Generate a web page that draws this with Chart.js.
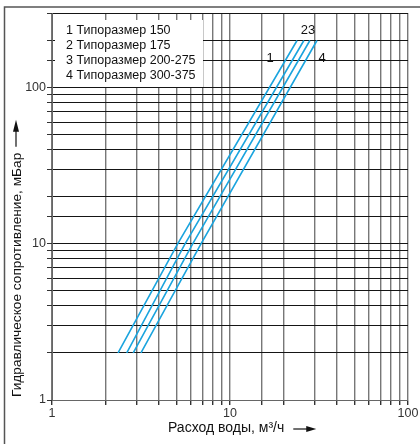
<!DOCTYPE html>
<html><head><meta charset="utf-8">
<script src="https://cdn.jsdelivr.net/npm/chart.js@4.4.1/dist/chart.umd.min.js"></script>
<style>html,body{margin:0;padding:0;background:#fff}#wrap{width:420px;height:444px;position:relative}</style>
</head><body><div id="wrap"><canvas id="c"></canvas></div>
<script>
const seriesNames = ['1 Типоразмер 150', '2 Типоразмер 175', '3 Типоразмер 200-275', '4 Типоразмер 300-375'];
const pressure = [2, 10, 200];
const flow1 = [2.35, 5.08, 23.8];
const flow2 = [2.63, 5.59, 26.0];
const flow3 = [2.86, 6.17, 28.1];
const flow4 = [3.16, 6.87, 30.8];
const curveLabels = ['1', '23', '4'];
const curveLabelX = [16.8, 27.4, 32.9];
const curveLabelY = [153, 232, 153];
const xTickLabels = [1, 10, 100];
const yTickLabels = [1, 10, 100];
const xTitle = 'Расход воды, м³/ч';
const yTitle = 'Гидравлическое сопротивление, мБар';

const BLUE = '#1aa4de';
const FONT = '"Liberation Sans", Arial, sans-serif';

function pts(xs) { return xs.map((x, i) => ({x: x, y: pressure[i]})); }
const flows = [flow1, flow2, flow3, flow4];

function isLabel(v, arr) { return arr.some(a => Math.abs(a - v) < 1e-6); }

const decor = {
  id: 'decor',
  beforeDatasetsDraw(chart) {
    const ctx = chart.ctx;
    ctx.save();
    ctx.fillStyle = '#fff';
    ctx.fillRect(55, 20, 148, 67);
    ctx.fillStyle = '#111';
    ctx.font = '12.5px ' + FONT;
    ctx.textBaseline = 'middle';
    ctx.textAlign = 'left';
    seriesNames.forEach((n, i) => ctx.fillText(n, 66, 31 + i * 14.7));
    ctx.restore();
  },
  afterDraw(chart) {
    const ctx = chart.ctx;
    const xs = chart.scales.x, ys = chart.scales.y;
    ctx.save();
    // curve labels
    ctx.fillStyle = '#111';
    ctx.font = '13px ' + FONT;
    ctx.textAlign = 'center';
    ctx.textBaseline = 'middle';
    curveLabels.forEach((t, i) => {
      ctx.fillText(t, xs.getPixelForValue(curveLabelX[i]), ys.getPixelForValue(curveLabelY[i]));
    });
    // x title
    ctx.font = '14px ' + FONT;
    ctx.textAlign = 'left';
    const w = ctx.measureText(xTitle).width;
    const tx = 168, ty = 428;
    ctx.fillText(xTitle, tx, ty);
    const ax0 = tx + w + 9, ax1 = ax0 + 23;
    ctx.strokeStyle = '#111'; ctx.lineWidth = 1.2;
    ctx.beginPath(); ctx.moveTo(ax0, ty + 1); ctx.lineTo(ax1 - 8, ty + 1); ctx.stroke();
    ctx.beginPath(); ctx.moveTo(ax1, ty + 1); ctx.lineTo(ax1 - 10, ty - 2); ctx.lineTo(ax1 - 10, ty + 4); ctx.closePath(); ctx.fill();
    // y title
    ctx.save();
    ctx.translate(17, 397);
    ctx.rotate(-Math.PI / 2);
    ctx.font = '13.7px ' + FONT;
    ctx.textAlign = 'left';
    ctx.fillText(yTitle, 0, 0);
    const wy = ctx.measureText(yTitle).width;
    const b0 = wy + 6, b1 = b0 + 27;
    ctx.beginPath(); ctx.moveTo(b0, -1); ctx.lineTo(b1 - 8, -1); ctx.stroke();
    ctx.beginPath(); ctx.moveTo(b1, -1); ctx.lineTo(b1 - 12, -4); ctx.lineTo(b1 - 12, 2); ctx.closePath(); ctx.fill();
    ctx.restore();
    // outer frame
    ctx.strokeStyle = '#555'; ctx.lineWidth = 1.5;
    ctx.beginPath(); ctx.moveTo(4.5, 446); ctx.lineTo(4.5, 7); ctx.lineTo(421, 7); ctx.stroke();
    ctx.restore();
  }
};

new Chart(document.getElementById('c'), {
  type: 'line',
  data: {
    datasets: flows.map((f, i) => ({
      label: seriesNames[i],
      data: pts(f),
      borderColor: BLUE,
      borderWidth: 1.6,
      pointRadius: 0,
      fill: false,
      tension: 0
    }))
  },
  options: {
    responsive: true,
    maintainAspectRatio: false,
    animation: false,
    layout: {padding: {left: 0, top: 13, right: 12, bottom: 0}},
    plugins: {legend: {display: false}, tooltip: {enabled: false}},
    scales: {
      x: {
        type: 'logarithmic', min: 1, max: 100,
        afterFit(s) { s.height = 44; },
        grid: {color: '#777', lineWidth: 1.4, tickLength: 5, tickColor: '#333'},
        border: {color: '#666', width: 1},
        ticks: {
          autoSkip: false, maxRotation: 0, padding: 1, color: '#333',
          font: {family: FONT, size: 12.5},
          callback: v => isLabel(v, xTickLabels) ? String(v) : ''
        }
      },
      y: {
        type: 'logarithmic', min: 1, max: 300,
        afterFit(s) { s.width = 52; },
        grid: {color: '#151515', lineWidth: 1, tickLength: 5, tickColor: '#333'},
        border: {color: '#666', width: 1},
        ticks: {
          autoSkip: false, padding: 1, color: '#333',
          font: {family: FONT, size: 12.5},
          callback: v => isLabel(v, yTickLabels) ? String(v) : ''
        }
      }
    }
  },
  plugins: [decor]
});
</script>
</body></html>
